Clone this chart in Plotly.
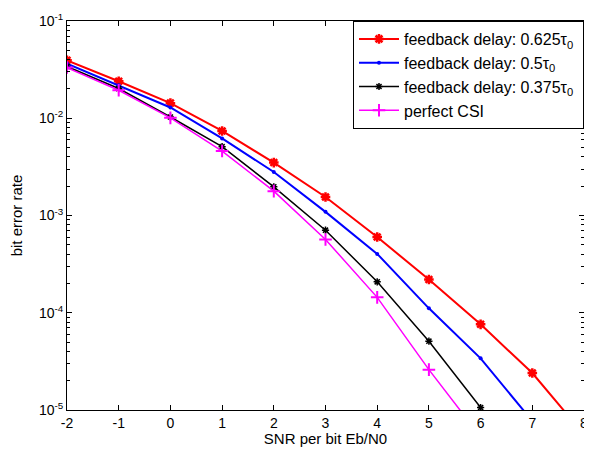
import plotly.graph_objects as go

snr = [-2, -1, 0, 1, 2, 3, 4, 5, 6, 7, 8]
ber_0625 = [0.0394, 0.0240, 0.0143, 0.0074, 0.0035, 0.00155, 0.00060, 0.00022, 7.6e-5, 2.4e-5, 5.6e-6]
ber_05 = [0.0365, 0.0218, 0.0129, 0.0062, 0.0028, 0.00109, 0.000403, 0.000111, 3.4e-5, 7.7e-6]
ber_0375 = [0.0340, 0.0202, 0.0103, 0.0051, 0.00197, 0.000706, 0.000208, 5.1e-5, 1.06e-5]
ber_perfect = [0.0332, 0.0194, 0.0101, 0.0046, 0.00178, 0.000567, 0.000144, 2.6e-5, 5.3e-6]

names = ["feedback delay: 0.625τ<sub>0</sub>&nbsp;", "feedback delay: 0.5τ<sub>0</sub>&nbsp;",
         "feedback delay: 0.375τ<sub>0</sub>&nbsp;", "perfect CSI"]
colors = ["#ff0000", "#0000ff", "#000000", "#ff00ff"]

x_ticks = [-2, -1, 0, 1, 2, 3, 4, 5, 6, 7, 8]
x_ticktext = ["-2", "-1", "0", "1", "2", "3", "4", "5", "6", "7", "8"]
y_ticks = [1e-5, 1e-4, 1e-3, 1e-2, 1e-1]
y_ticktext = ["10<sup>-5</sup>", "10<sup>-4</sup>", "10<sup>-3</sup>", "10<sup>-2</sup>", "10<sup>-1</sup>"]
y_minor = [m * d for d in [1e-5, 1e-4, 1e-3, 1e-2] for m in range(2, 10)]

FONT = "Liberation Sans, Arial, sans-serif"

fig = go.Figure()
series = [ber_0625, ber_05, ber_0375, ber_perfect]
markers = [
    dict(symbol="asterisk-open", size=8, line=dict(width=2.5, color=colors[0])),
    dict(symbol="circle", size=4, color=colors[1]),
    dict(symbol="asterisk-open", size=6, line=dict(width=1.5, color=colors[2])),
    dict(symbol="cross-thin-open", size=9, line=dict(width=2, color=colors[3])),
]
widths = [2, 2, 1.5, 1.5]
for ys, nm, c, mk, w in zip(series, names, colors, markers, widths):
    fig.add_trace(go.Scatter(
        x=snr[:len(ys)], y=ys, name=nm, mode="lines+markers",
        line=dict(color=c, width=w), marker=mk,
    ))

axis_common = dict(
    showgrid=False, zeroline=False, showline=True, linecolor="black", linewidth=1,
    mirror="ticks", ticks="inside", ticklen=5, tickcolor="black",
    tickfont=dict(family=FONT, size=14, color="black"),
    automargin=False, ticklabeloverflow="allow",
)

fig.update_xaxes(
    range=[-2, 8], tickvals=x_ticks, ticktext=x_ticktext,
    title=dict(text="SNR per bit Eb/N0", font=dict(family=FONT, size=15, color="black"), standoff=7),
    **axis_common,
)
fig.update_yaxes(
    type="log", range=[-5, -1], tickvals=y_ticks, ticktext=y_ticktext,
    minor=dict(ticks="inside", ticklen=3, tickcolor="black", showgrid=False,
               tickmode="array", tickvals=y_minor),
    title=dict(text="bit error rate", font=dict(family=FONT, size=15, color="black"), standoff=18),
    **axis_common,
)

fig.update_layout(
    width=584, height=439,
    margin=dict(l=59, r=8, t=13, b=37, autoexpand=False),
    paper_bgcolor="white", plot_bgcolor="white",
    font=dict(family=FONT, size=14, color="black"),
    showlegend=True,
    legend=dict(
        x=1, y=1, xanchor="right", yanchor="top",
        bordercolor="black", borderwidth=1, bgcolor="white",
        font=dict(family=FONT, size=16, color="black"),
        tracegroupgap=0, itemwidth=40,
    ),
)

fig.write_html("out.html")
